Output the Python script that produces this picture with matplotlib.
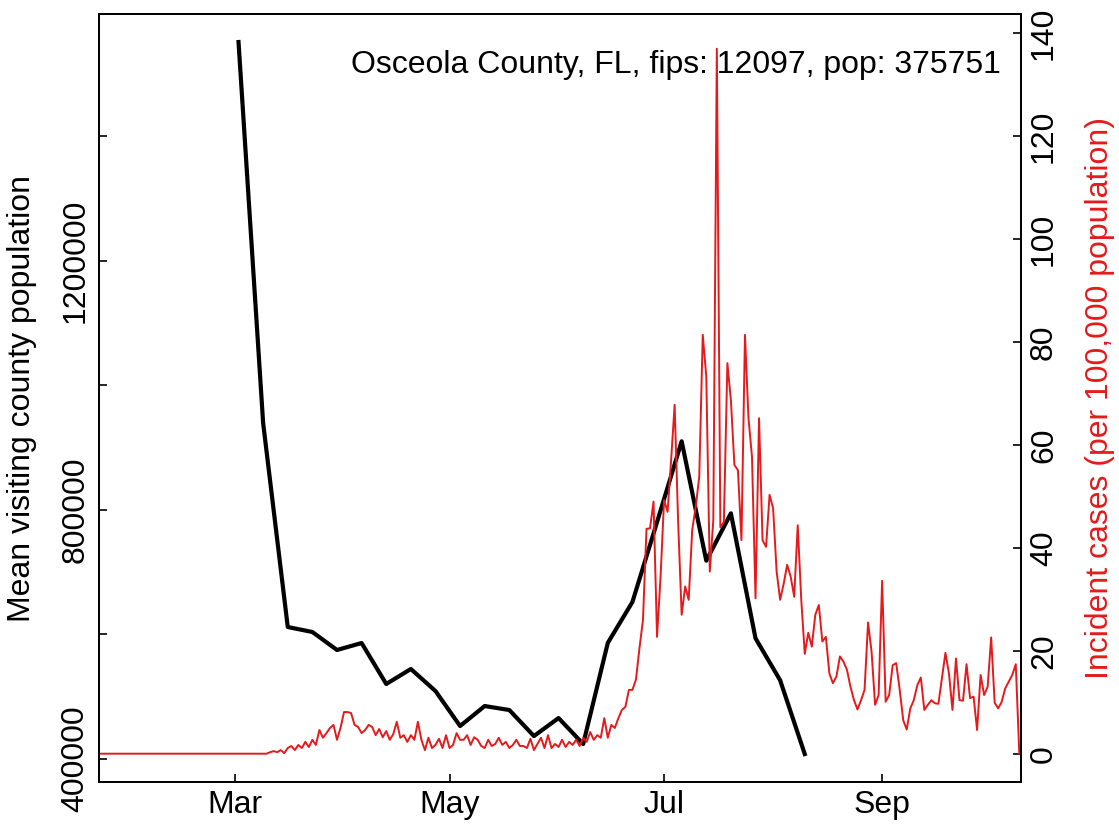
import matplotlib
matplotlib.use("Agg")
import matplotlib.pyplot as plt
import numpy as np
import pandas as pd

plt.rcParams['font.family'] = ['Liberation Sans', 'DejaVu Sans']

# weekly mean visiting county population (black), weeks starting 2020-03-02
visit_start = "2020-03-02"
visitors = [1551000, 939000, 611500, 603500, 574600, 585800, 520000, 544100,
            508700, 452500, 484600, 478200, 436400, 465300, 423600, 586000,
            651700, 780000, 909800, 718000, 794100, 593400, 526000, 407500]

# daily incident cases per 100,000 (red), from 2020-01-22
cases_start = "2020-01-22"
cases = [
    # Jan 22 - Feb 29
    0, 0, 0, 0, 0, 0, 0, 0, 0, 0, 0, 0, 0, 0, 0, 0, 0, 0, 0, 0,
    0, 0, 0, 0, 0, 0, 0, 0, 0, 0, 0, 0, 0, 0, 0, 0, 0, 0, 0,
    # Mar 1 - Mar 12
    0, 0, 0, 0, 0, 0, 0, 0, 0, 0, 0.3, 0.5,
    # Mar 13 - Jun 23
    0.3, 0.7, 0.1, 1.1, 1.5, 0.7, 1.7, 1.1, 2.3, 1.3,
    2.7, 1.7, 4.6, 3.1, 4.0, 5.0, 5.6, 2.7, 5.0, 8.1,
    8.1, 7.9, 5.6, 5.2, 4.0, 4.6, 5.6, 5.2, 3.6, 4.8,
    3.2, 4.4, 2.7, 3.8, 6.2, 3.1, 3.6, 2.3, 3.6, 2.7,
    6.2, 2.7, 0.7, 3.1, 1.1, 1.7, 2.9, 1.1, 3.6, 1.1,
    1.7, 4.0, 2.7, 2.7, 3.6, 1.7, 3.2, 2.7, 1.5, 1.1,
    2.7, 1.5, 1.9, 3.1, 1.7, 2.3, 1.1, 1.7, 2.7, 1.5,
    1.5, 1.1, 2.9, 0.7, 1.9, 3.1, 1.1, 3.6, 1.1, 1.9,
    1.3, 2.7, 1.3, 2.3, 1.7, 2.7, 1.5, 3.1, 2.3, 4.2,
    2.7, 3.6, 3.1, 6.9, 3.1, 5.6, 5.0, 6.9, 8.5, 9.1,
    12.4, 12.4, 14.4,
    # Jun 24 - Aug 17
    20.5, 26, 43.7, 43.8, 49, 22.7, 34.4, 49.3, 47, 57,
    67.8, 45, 27, 32.5, 29.9, 43.5, 48, 53.8, 81.4, 73.3,
    35.4, 45.4, 137, 44, 45, 75.9, 68.7, 56.1, 55.1, 41.5,
    81.4, 65.2, 57.7, 30.2, 65.2, 41.5, 40.2, 50.3, 47.7, 35.4,
    29.9, 33, 36.7, 34.4, 30.5, 44.4, 30, 19.4, 23.5, 20.8,
    27, 28.9, 21.8, 22.7,
    # Aug 18 - Oct 10
    15.6, 13.7, 15, 18.9, 17.9, 16.3, 13, 10.4, 8.6, 10.4,
    12.4, 25.5, 19.8, 9.5, 11.4, 33.6, 10.1, 11.4, 17.2, 17.6,
    12.4, 6.5, 4.7, 8.8, 10.4, 13.3, 14.8, 8.5, 9.5, 10.4,
    9.8, 9.7, 14.7, 19.6, 15.6, 8.5, 18.5, 10.4, 10.3, 17.4,
    10.8, 11.1, 4.6, 15.3, 11.4, 13, 22.6, 9.9, 8.8, 10.1,
    12.7, 14, 15.3, 17.4, 0,
]

month_ticks = ["2020-03-01", "2020-05-01", "2020-07-01", "2020-09-01"]
month_labels = ["Mar", "May", "Jul", "Sep"]
left_ticks = [400000, 600000, 800000, 1000000, 1200000, 1400000]
left_labels = ["400000", "", "800000", "", "1200000", ""]
right_ticks = [0, 20, 40, 60, 80, 100, 120, 140]
title = "Osceola County, FL, fips: 12097, pop: 375751"

visit_dates = pd.date_range(visit_start, periods=len(visitors), freq="7D")
case_dates = pd.date_range(cases_start, periods=len(cases), freq="D")

red = "#E41A1C"
fs = 23

fig = plt.figure(figsize=(11.19, 8.31), dpi=100)
ax = fig.add_axes([99 / 1119, 1 - 782 / 831, 921.7 / 1119, 768 / 831])
ax2 = ax.twinx()

ax.plot(visit_dates, visitors, color="black", lw=3.0)
ax2.plot(case_dates, cases, color=red, lw=1.4)

mar1 = pd.Timestamp("2020-03-01")
ax.set_xlim(mar1 - pd.Timedelta(days=38.67), mar1 + pd.Timedelta(days=223.4))
ax.set_ylim(362600, 1596000)
ax2.set_ylim(-5.5, 143.75)

ax.set_xticks(pd.to_datetime(month_ticks))
ax.set_xticklabels(month_labels, fontsize=fs)
ax.set_yticks(left_ticks)
ax.set_yticklabels(left_labels, fontsize=fs, rotation=90, va="center")
ax2.set_yticks(right_ticks)
ax2.set_yticklabels([str(t) for t in right_ticks], fontsize=fs, rotation=90, va="center")

for a in (ax, ax2):
    a.tick_params(direction="in", length=6, width=1.2, pad=6)
    for s in a.spines.values():
        s.set_linewidth(1.3)

ax.text(0.9786, 0.9236, title, transform=ax.transAxes, ha="right",
        va="baseline", fontsize=fs, zorder=0)

fig.text(22 / 1119, 1 - 398 / 831, "Mean visiting county population",
         rotation=90, ha="center", va="center", fontsize=fs)
fig.text(1100 / 1119, 1 - 398 / 831, "Incident cases (per 100,000 population)",
         rotation=90, ha="center", va="center", fontsize=fs, color=red)

fig.savefig("out.png", dpi=100)
